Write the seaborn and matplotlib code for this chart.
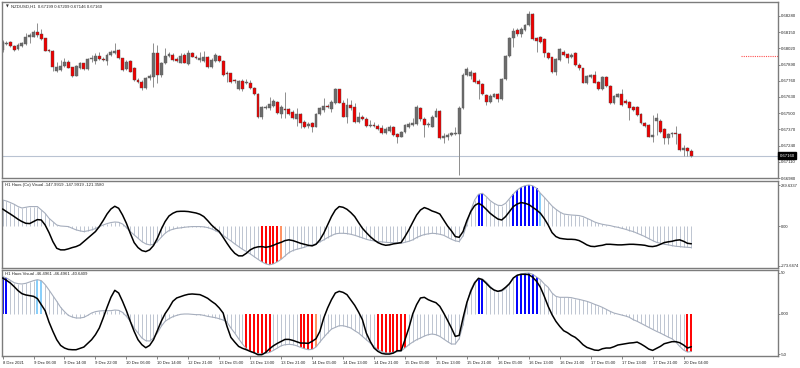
import numpy as np
import matplotlib
matplotlib.use("Agg")
import matplotlib.pyplot as plt
import seaborn as sns

# NZDUSD H1 candles, prices in points (price * 1e5)
opens = [
    68007, 68055, 68068, 68039, 68012, 68039, 68055, 68108, 68114, 68154,
    68132, 68100, 68007, 68001, 67841, 67846, 67878, 67908, 67868, 67801,
    67860, 67900, 67854, 67932, 67921, 67959, 67932, 67921, 67967, 67980,
    68007, 67940, 67852, 67919, 67865, 67766, 67753, 67699, 67779, 67787,
    67980, 67806, 67900, 67959, 67967, 67932, 67905, 67964, 67894, 67985,
    67953, 67927, 67921, 67953, 67873, 67921, 67961, 67921, 67825, 67820,
    67763, 67691, 67758, 67739, 67745, 67699, 67654, 67472, 67541, 67541,
    67557, 67592, 67493, 67533, 67531, 67512, 67450, 67493, 67429, 67397,
    67418, 67392, 67493, 67525, 67557, 67531, 67579, 67691, 67584, 67472,
    67563, 67547, 67432, 67467, 67456, 67397, 67402, 67400, 67378, 67338,
    67359, 67389, 67330, 67311, 67349, 67386, 67405, 67413, 67544, 67456,
    67402, 67392, 67472, 67517, 67298, 67306, 67325, 67333, 67333, 67539,
    67806, 67798, 67825, 67761, 67734, 67646, 67592, 67632, 67654, 67611,
    67771, 67959, 68100, 68167, 68135, 68167, 68207, 68296, 68100, 68108,
    68092, 67985, 67948, 67833, 67927, 67993, 67972, 67948, 67980, 67886,
    67860, 67745, 67787, 67806, 67753, 67691, 67793, 67718, 67579, 67632,
    67654, 67600, 67592, 67547, 67547, 67493, 67424, 67405, 67311, 67440,
    67440, 67370, 67298, 67333, 67343, 67333, 67204, 67217, 67199]
highs = [
    68087, 68079, 68082, 68047, 68060, 68074, 68140, 68146, 68167, 68221,
    68173, 68106, 68015, 68007, 67913, 67927, 67940, 67927, 67873, 67886,
    67913, 67905, 67945, 67967, 67980, 67993, 67953, 67980, 68007, 68060,
    68012, 67945, 67927, 67927, 67873, 67779, 67766, 67793, 67814, 68060,
    68047, 67913, 68020, 67993, 67980, 67953, 67980, 67985, 68007, 67993,
    67967, 67993, 68001, 67959, 67940, 67980, 67967, 67927, 67841, 67825,
    67777, 67766, 67771, 67771, 67766, 67707, 67659, 67557, 67565, 67627,
    67611, 67597, 67565, 67672, 67539, 67525, 67539, 67499, 67445, 67432,
    67432, 67499, 67552, 67619, 67573, 67606, 67699, 67697, 67606, 67619,
    67606, 67579, 67512, 67485, 67472, 67445, 67432, 67413, 67405, 67392,
    67405, 67397, 67343, 67359, 67413, 67432, 67458, 67565, 67552, 67472,
    67432, 67485, 67539, 67525, 67343, 67343, 67351, 67392, 67557, 67820,
    67868, 67846, 67833, 67771, 67745, 67654, 67654, 67664, 67659, 67785,
    67967, 68114, 68181, 68181, 68194, 68215, 68322, 68306, 68114, 68119,
    68100, 67993, 67953, 67940, 68026, 68007, 67980, 67985, 67988, 67900,
    67865, 67806, 67812, 67841, 67758, 67801, 67798, 67726, 67646, 67664,
    67691, 67611, 67600, 67557, 67557, 67499, 67432, 67413, 67485, 67499,
    67450, 67378, 67343, 67351, 67397, 67338, 67244, 67231, 67209]
lows = [
    67993, 68044, 68031, 67999, 68004, 68034, 68047, 68066, 68108, 68114,
    68087, 67999, 67988, 67841, 67833, 67841, 67873, 67860, 67793, 67795,
    67854, 67846, 67849, 67913, 67894, 67927, 67916, 67886, 67959, 67975,
    67932, 67841, 67846, 67828, 67758, 67739, 67686, 67691, 67766, 67707,
    67739, 67793, 67894, 67953, 67919, 67911, 67900, 67900, 67886, 67948,
    67932, 67913, 67913, 67865, 67865, 67913, 67913, 67798, 67753, 67745,
    67745, 67686, 67680, 67731, 67691, 67646, 67464, 67450, 67531, 67525,
    67547, 67493, 67458, 67458, 67485, 67450, 67397, 67378, 67378, 67378,
    67351, 67386, 67485, 67512, 67539, 67512, 67573, 67579, 67467, 67424,
    67525, 67424, 67424, 67445, 67392, 67392, 67386, 67365, 67333, 67333,
    67351, 67317, 67258, 67306, 67343, 67378, 67397, 67405, 67440, 67311,
    67392, 67386, 67467, 67290, 67263, 67285, 67317, 67325, 67004, 67531,
    67798, 67771, 67739, 67611, 67646, 67565, 67584, 67627, 67592, 67606,
    67766, 67953, 68034, 68119, 68114, 68162, 68199, 68087, 67993, 68066,
    67948, 67932, 67825, 67806, 67921, 67959, 67900, 67940, 67878, 67846,
    67739, 67734, 67779, 67739, 67686, 67686, 67713, 67573, 67573, 67627,
    67557, 67573, 67445, 67517, 67477, 67410, 67386, 67306, 67271, 67325,
    67343, 67252, 67252, 67311, 67252, 67199, 67156, 67156, 67146]
closes = [
    68074, 68066, 68039, 68007, 68047, 68066, 68114, 68130, 68154, 68127,
    68092, 68001, 67999, 67873, 67873, 67878, 67913, 67865, 67801, 67881,
    67900, 67854, 67937, 67940, 67959, 67932, 67924, 67967, 67993, 68001,
    67940, 67846, 67913, 67833, 67766, 67753, 67699, 67779, 67798, 67980,
    67806, 67905, 67961, 67972, 67927, 67919, 67961, 67905, 67985, 67953,
    67943, 67943, 67953, 67873, 67927, 67967, 67919, 67806, 67812, 67753,
    67755, 67758, 67691, 67750, 67699, 67654, 67472, 67547, 67547, 67573,
    67597, 67499, 67547, 67525, 67493, 67458, 67493, 67424, 67392, 67413,
    67386, 67493, 67539, 67557, 67547, 67592, 67691, 67584, 67472, 67563,
    67544, 67432, 67472, 67456, 67397, 67405, 67400, 67370, 67338, 67370,
    67386, 67325, 67311, 67349, 67405, 67413, 67418, 67552, 67450, 67405,
    67410, 67472, 67517, 67298, 67317, 67325, 67338, 67343, 67544, 67806,
    67852, 67833, 67753, 67734, 67654, 67592, 67638, 67654, 67611, 67774,
    67959, 68100, 68162, 68135, 68173, 68207, 68296, 68092, 68082, 68074,
    67980, 67940, 67833, 67932, 68012, 67967, 67940, 67967, 67886, 67860,
    67745, 67798, 67806, 67745, 67691, 67793, 67718, 67579, 67638, 67654,
    67565, 67579, 67539, 67525, 67485, 67418, 67397, 67311, 67325, 67458,
    67351, 67298, 67333, 67343, 67333, 67204, 67220, 67199, 67160]

# "Haos (Co) Visual" indicator: histogram and signal line
hist_co = [
    185, 178, 167, 155, 139, 129, 134, 139, 139, 139,
    115, 92, 57, 34, 10, 3, 1, -1, -13, -24,
    -31, -36, -31, -24, -15, -1, 10, 20, 27, 31,
    29, 17, -8, -36, -59, -83, -106, -122, -129, -125,
    -106, -76, -48, -29, -20, -13, -10, -6, -3, -1,
    -1, -1, -3, -8, -17, -29, -43, -62, -83, -101,
    -122, -141, -160, -176, -192, -211, -230, -248, -262, -269,
    -262, -248, -230, -206, -183, -169, -160, -153, -146, -136,
    -129, -122, -108, -94, -78, -64, -52, -48, -48, -50,
    -55, -62, -71, -80, -90, -97, -101, -106, -108, -111,
    -113, -113, -115, -118, -111, -104, -94, -78, -66, -57,
    -52, -48, -50, -55, -62, -76, -90, -101, -106, -66,
    17, 111, 185, 225, 232, 209, 181, 162, 148, 146,
    162, 195, 227, 255, 274, 285, 290, 285, 267, 232,
    204, 174, 143, 120, 101, 87, 83, 80, 78, 76,
    69, 57, 45, 31, 22, 15, 10, 6, -1, -6,
    -13, -20, -29, -36, -48, -59, -71, -85, -99, -111,
    -118, -125, -129, -134, -139, -141, -144, -146, -147.9919]
line_co = [
    122, 104, 87, 69, 50, 34, 22, 20, 34, 48,
    45, 10, -43, -106, -153, -164, -164, -157, -148, -141,
    -129, -106, -83, -59, -36, -1, 41, 87, 122, 141,
    127, 80, 22, -48, -113, -148, -169, -176, -164, -134,
    -83, -20, 34, 73, 92, 104, 106, 106, 104, 99,
    94, 85, 69, 41, 10, -15, -36, -76, -118, -157,
    -188, -206, -206, -188, -164, -150, -143, -141, -146, -141,
    -132, -120, -111, -99, -94, -99, -108, -118, -125, -132,
    -136, -125, -94, -48, 10, 69, 115, 139, 134, 120,
    97, 69, 27, -13, -43, -71, -94, -113, -125, -132,
    -129, -122, -118, -113, -71, -24, 29, 80, 115, 132,
    122, 108, 99, 87, 45, 3, -31, -71, -76, -36,
    41, 104, 146, 162, 146, 120, 92, 71, 52, 45,
    69, 104, 139, 157, 167, 162, 153, 134, 115, 92,
    55, 10, -43, -71, -83, -87, -90, -90, -92, -99,
    -113, -129, -139, -141, -136, -132, -125, -125, -127, -129,
    -129, -127, -125, -125, -127, -129, -132, -139, -141, -136,
    -125, -113, -108, -104, -97, -94, -104, -118, -121.358]

# "Haos Visual" indicator
hist_v = [
    45.5, 43.9, 41.0, 38.1, 36.9, 36.5, 37.3, 39.0, 40.6, 41.8,
    40.6, 35.7, 29.1, 22.1, 15.2, 7.8, 2.5, -2.1, -4.1, -5.3,
    -5.3, -4.5, -2.1, 0.8, 2.5, 3.3, 3.7, 3.7, 3.7, 4.5,
    4.1, 1.6, -3.3, -9.4, -17.6, -23.8, -29.9, -33.2, -33.6, -29.9,
    -23.8, -15.6, -9.4, -6.2, -3.7, -2.1, -0.8, -0.4, -0.4, -0.8,
    -1.2, -1.2, -2.1, -3.3, -4.1, -4.9, -6.2, -7.8, -10.3, -17.6,
    -23.8, -30.8, -37.3, -43.1, -46.3, -48.4, -49.2, -49.6, -48.8, -47.6,
    -45.1, -42.2, -39.4, -38.1, -37.7, -38.1, -39.4, -41.4, -43.1, -44.3,
    -43.9, -41.0, -34.9, -29.1, -23.8, -18.9, -16.8, -14.8, -14.8, -16.0,
    -17.6, -20.9, -23.8, -27.9, -32.0, -36.1, -40.2, -44.3, -46.7, -48.4,
    -48.4, -47.6, -46.7, -45.9, -42.2, -38.1, -34.9, -32.0, -29.9, -27.5,
    -25.8, -25.0, -25.8, -27.9, -31.2, -34.4, -37.3, -37.3, -30.8, -13.5,
    13.1, 29.5, 39.0, 43.1, 42.6, 39.0, 33.6, 29.1, 27.1, 27.5,
    30.8, 36.9, 43.5, 47.2, 48.8, 49.6, 50.0, 48.4, 45.1, 41.8,
    36.5, 32.4, 25.4, 21.3, 20.1, 20.1, 20.1, 19.7, 18.5, 17.6,
    16.4, 15.2, 13.5, 11.5, 9.8, 7.8, 5.3, 2.9, 0.8, -0.4,
    -1.6, -2.9, -4.5, -7.4, -9.4, -11.9, -14.4, -16.8, -19.3, -21.7,
    -23.8, -26.2, -28.7, -30.8, -34.9, -40.2, -44.7, -47.2, -46.4961]
line_v = [
    43.9, 41.0, 37.7, 33.2, 28.3, 24.6, 23.0, 22.1, 21.3, 18.5,
    11.1, 3.7, -10.3, -21.7, -32.0, -39.0, -42.2, -43.9, -44.3, -44.3,
    -42.6, -41.0, -36.5, -32.0, -25.8, -17.6, -5.3, 7.8, 20.1, 28.7,
    25.4, 15.2, 3.7, -9.4, -21.7, -32.0, -38.1, -41.8, -39.0, -32.0,
    -20.9, -9.4, 0.0, 7.0, 15.2, 19.3, 20.9, 22.6, 23.8, 24.2,
    23.8, 23.4, 21.3, 18.9, 15.2, 11.9, 7.0, 0.8, -15.6, -29.1,
    -34.9, -40.2, -42.6, -44.3, -46.3, -48.0, -50.4, -50.4, -47.6, -43.1,
    -39.4, -36.5, -34.0, -31.6, -31.6, -32.8, -34.4, -36.1, -36.1, -36.5,
    -34.0, -30.8, -21.7, -5.3, 7.0, 17.2, 25.4, 27.5, 26.2, 23.4,
    16.8, 10.3, 2.0, -7.4, -23.8, -34.0, -42.2, -46.3, -48.8, -49.6,
    -49.6, -48.4, -45.5, -45.5, -32.0, -17.6, -0.4, 11.1, 19.3, 20.1,
    17.2, 15.2, 13.5, 9.0, 0.8, -8.2, -17.6, -27.9, -26.7, -5.3,
    13.9, 27.5, 37.7, 43.5, 41.8, 37.3, 32.4, 29.1, 27.5, 28.7,
    32.4, 36.9, 43.9, 47.2, 48.4, 48.4, 48.0, 44.7, 39.8, 32.4,
    21.3, 9.0, -1.2, -9.4, -15.6, -20.9, -23.4, -26.7, -29.1, -33.2,
    -38.1, -41.4, -43.1, -44.7, -45.1, -43.1, -42.2, -42.2, -40.6, -38.5,
    -37.7, -36.9, -36.1, -35.7, -34.9, -37.3, -40.2, -43.5, -45.1, -42.6,
    -40.2, -36.9, -35.7, -34.4, -34.4, -35.7, -38.5, -42.2, -40.6409]

# bars where the indicators paint a signal colour
co_red = [67, 68, 69, 70, 71]
co_orange = [72]
co_blue = [123, 124, 132, 133, 134, 135, 136, 137, 138]
co_lblue = [139]
v_red = [63, 64, 65, 66, 67, 68, 69, 77, 78, 79, 80,
         97, 98, 99, 100, 101, 102, 103, 104, 177, 178]
v_orange = [81]
v_blue = [0, 1, 123, 124, 133, 134, 135, 136, 137, 138]
v_lblue = [9, 10]

time_labels = ["8 Dec 2021", "9 Dec 06:00", "9 Dec 14:00", "9 Dec 22:00",
               "10 Dec 06:00", "10 Dec 14:00", "12 Dec 21:00", "13 Dec 05:00",
               "13 Dec 13:00", "13 Dec 21:00", "14 Dec 05:00", "14 Dec 13:00",
               "14 Dec 21:00", "15 Dec 05:00", "15 Dec 13:00", "15 Dec 21:00",
               "16 Dec 05:00", "16 Dec 13:00", "16 Dec 21:00", "17 Dec 05:00",
               "17 Dec 13:00", "17 Dec 21:00", "20 Dec 04:00"]
price_ticks = [0.68280, 0.68150, 0.68020, 0.67890, 0.67760, 0.67630,
               0.67500, 0.67370, 0.67240, 0.67110, 0.66980]
last_price = 0.67160
alert_price = 0.67962

sns.set_theme(style="white")
plt.rcParams["font.family"] = ["Liberation Sans", "DejaVu Sans"]

o = np.array(opens) / 1e5
h = np.array(highs) / 1e5
l = np.array(lows) / 1e5
c = np.array(closes) / 1e5
idx = np.arange(len(c))
up = c >= o

fig = plt.figure(figsize=(8, 3.68), dpi=100, facecolor="white")
L, W = 2 / 800, 776 / 800
ax1 = fig.add_axes([L, 1 - 178 / 368, W, 176 / 368])
ax2 = fig.add_axes([L, 1 - 268.3 / 368, W, 87.6 / 368])
ax3 = fig.add_axes([L, 1 - 356 / 368, W, 85.7 / 368])

FS = 3.1
for ax in (ax1, ax2, ax3):
    ax.set_facecolor("white")
    ax.set_xlim(-0.15, 200.4)
    for s in ax.spines.values():
        s.set_color("#7c7c7c")
        s.set_linewidth(1.0)
    ax.yaxis.tick_right()
    ax.tick_params(axis="y", length=1.5, width=0.5, color="#555555",
                   labelsize=FS, pad=0.8, labelcolor="#222222")
    ax.tick_params(axis="x", bottom=False, labelbottom=False)
    ax.grid(False)

# candles
ax1.vlines(idx, l, h, colors="#8e8e8e", linewidth=0.7, zorder=1)
body_lo = np.minimum(o, c)
body_h = np.maximum(np.abs(c - o), 0.00002)
ax1.bar(idx[up], body_h[up], bottom=body_lo[up], width=0.74,
        color="#6c6c6c", edgecolor="#5c5c5c", linewidth=0.3, zorder=2)
ax1.bar(idx[~up], body_h[~up], bottom=body_lo[~up], width=0.74,
        color="#f00000", edgecolor="#4a4a4a", linewidth=0.3, zorder=2)
ax1.axhline(last_price, color="#b9c3d2", lw=0.8, zorder=0)
ax1.hlines(alert_price, 190.8, 200.3, colors="#ff5050", linestyles=(0, (1, 1)), lw=0.8)
ax1.set_ylim(0.66980, 0.68392)
ax1.set_yticks(price_ticks)
ax1.set_yticklabels([f"{p:.5f}" for p in price_ticks])
ax1.text(1.002, last_price, f"{last_price:.5f}", transform=ax1.get_yaxis_transform(),
         ha="left", va="center", fontsize=FS, color="white",
         bbox=dict(boxstyle="square,pad=0.25", fc="black", ec="black"), zorder=5)
ax1.text(0.005, 0.985, "\u25bc", transform=ax1.transAxes, ha="left", va="top",
         fontsize=2.6, color="#333333", family=["DejaVu Sans"])
ax1.text(0.012, 0.985, "NZDUSD,H1  0.67199 0.67209 0.67146 0.67160",
         transform=ax1.transAxes, ha="left", va="top", fontsize=FS, color="#222222")


def bar_colours(n, red, orange, blue, lblue):
    cols = ["#b3bbca"] * n
    widths = [0.6] * n
    for group, col in ((red, "#ff0000"), (orange, "#ff9060"),
                       (blue, "#0000ff"), (lblue, "#87cefa")):
        for i in group:
            cols[i] = col
            widths[i] = 1.4
    return cols, widths


def indicator(ax, hist, line, cols, widths):
    ax.vlines(idx, 0, hist, colors=cols, linewidths=widths, zorder=1)
    sns.lineplot(x=idx, y=hist, ax=ax, color="#a6aebd", lw=0.8, zorder=2)
    sns.lineplot(x=idx, y=line, ax=ax, color="black", lw=1.1, zorder=3)
    ax.set_xlabel("")
    ax.set_ylabel("")


cols2, w2 = bar_colours(len(idx), co_red, co_orange, co_blue, co_lblue)
indicator(ax2, hist_co, line_co, cols2, w2)
ax2.set_ylim(-293, 320)
ax2.set_yticks([289.6337, 0, -273.6474])
ax2.set_yticklabels(["289.6337", "0.00", "-273.6474"])
ax2.tick_params(axis="y", labelsize=2.85)
ax2.text(0.004, 0.975, "H1 Haos (Co) Visual -147.9919 -147.9919 -121.3580",
         transform=ax2.transAxes, ha="left", va="top", fontsize=FS, color="#222222")

cols3, w3 = bar_colours(len(idx), v_red, v_orange, v_blue, v_lblue)
indicator(ax3, hist_v, line_v, cols3, w3)
ax3.set_ylim(-52, 53.3)
ax3.set_yticks([50, 0, -50])
ax3.set_yticklabels(["50", "0.00", "-50"])
ax3.text(0.004, 0.975, "H1 Haos Visual -46.4961 -46.4961 -40.6409",
         transform=ax3.transAxes, ha="left", va="top", fontsize=FS, color="#222222")

ax3.set_xticks(np.arange(len(time_labels)) * 8)
ax3.set_xticklabels(time_labels, ha="left")
ax3.tick_params(axis="x", bottom=True, labelbottom=True, length=2.5, width=0.5,
                color="#555555", labelsize=3.0, pad=1.2, labelcolor="#222222")

fig.savefig("out.png", dpi=100, facecolor="white")
